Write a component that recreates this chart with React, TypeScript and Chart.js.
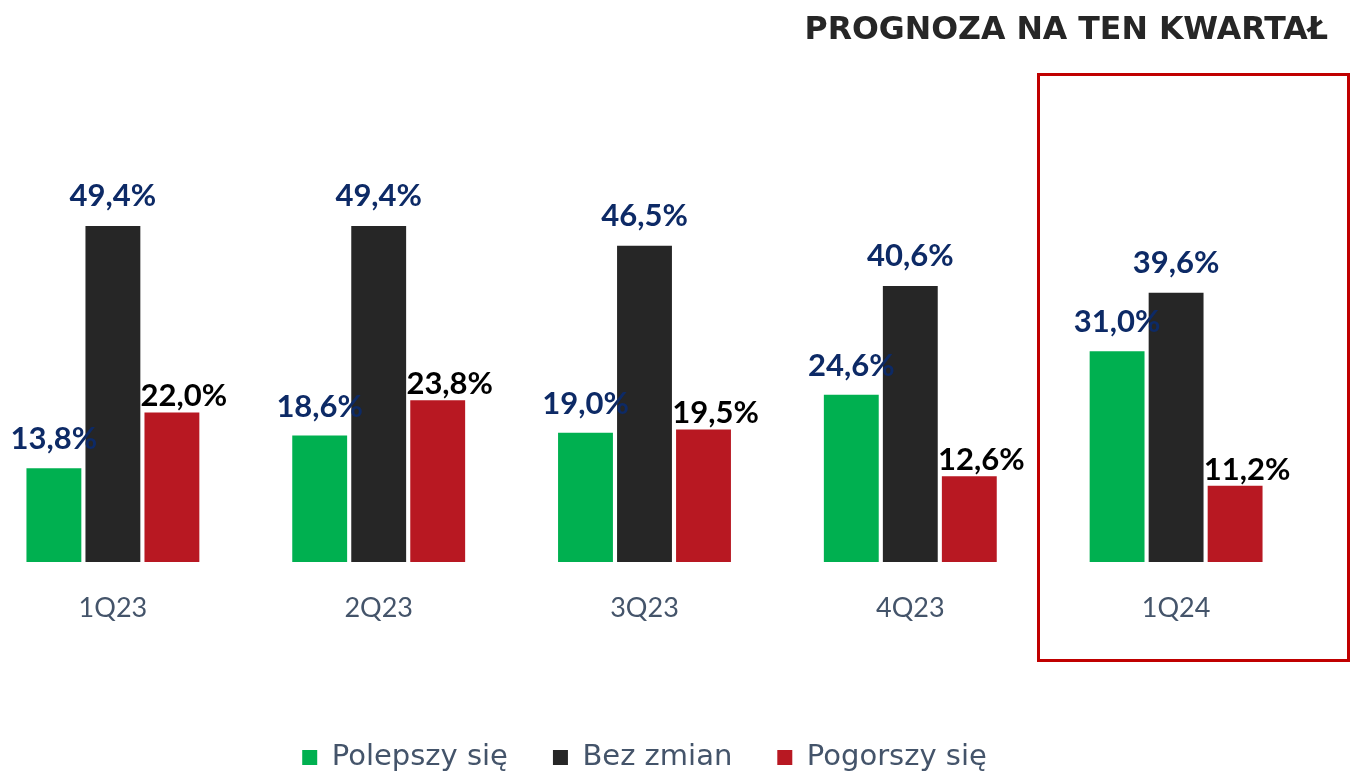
import React, { useEffect, useRef } from "react";
import { Chart, registerables } from "chart.js";

Chart.register(...registerables);

// ---- data ----
const categories = ["1Q23", "2Q23", "3Q23", "4Q23", "1Q24"];
const seriesNames = ["Polepszy się", "Bez zmian", "Pogorszy się"];
const improve = [13.8, 18.6, 19.0, 24.6, 31.0];
const noChange = [49.4, 49.4, 46.5, 40.6, 39.6];
const worsen = [22.0, 23.8, 19.5, 12.6, 11.2];
const titleText = "PROGNOZA NA TEN KWARTAŁ";

const fmt = (v: number) => v.toFixed(1).replace(".", ",") + "%";

const labelStyles = [
  { color: "#0D2A66", dx: 0, dy: 19 },
  { color: "#0D2A66", dx: 0, dy: 20 },
  { color: "#000000", dx: 12, dy: 6 },
];

const valueLabels = {
  id: "valueLabels",
  afterDatasetsDraw(chart: any) {
    const ctx = chart.ctx;
    ctx.save();
    ctx.font = "bold 31px Lato";
    ctx.textAlign = "center";
    ctx.textBaseline = "alphabetic";
    chart.data.datasets.forEach((ds: any, i: number) => {
      const meta = chart.getDatasetMeta(i);
      const st = labelStyles[i];
      meta.data.forEach((bar: any, j: number) => {
        ctx.fillStyle = st.color;
        ctx.fillText(fmt(ds.data[j]), bar.x + st.dx, bar.y - st.dy);
      });
    });
    ctx.restore();
  },
};

export default function App() {
  const ref = useRef<HTMLCanvasElement | null>(null);

  useEffect(() => {
    if (!ref.current) return;
    const chart = new Chart(ref.current, {
      type: "bar",
      data: {
        labels: categories,
        datasets: [
          { label: seriesNames[0], data: improve, backgroundColor: "#00B050" },
          { label: seriesNames[1], data: noChange, backgroundColor: "#262626" },
          { label: seriesNames[2], data: worsen, backgroundColor: "#B81822" },
        ],
      },
      options: {
        responsive: false,
        animation: false,
        layout: { padding: { top: 154, left: 0, right: 0, bottom: 0 } },
        datasets: {
          bar: { categoryPercentage: 0.666, barPercentage: 0.93 },
        },
        scales: {
          x: {
            grid: { display: false, drawTicks: false },
            border: { display: false },
            ticks: {
              color: "#44546A",
              font: { family: "Lato", size: 27 },
              padding: 30,
            },
            afterFit(scale: any) {
              scale.height = 136;
            },
          },
          y: { display: false, min: 0, max: 60 },
        },
        plugins: {
          legend: {
            position: "bottom",
            labels: {
              color: "#44546A",
              font: { family: "DejaVu Sans", size: 29 },
              boxWidth: 15,
              boxHeight: 15,
              padding: 45,
            },
          },
          tooltip: { enabled: false },
        },
      },
      plugins: [valueLabels],
    } as any);
    return () => chart.destroy();
  }, []);

  return (
    <div
      style={{
        position: "absolute",
        left: 0,
        top: 0,
        width: 1350,
        height: 774,
        overflow: "hidden",
        background: "#ffffff",
      }}
    >
      <div style={{ position: "absolute", left: -20, top: 0, width: 1329, height: 782 }}>
        <canvas ref={ref} width={1329} height={782} />
      </div>
      <div
        style={{
          position: "absolute",
          right: 22,
          top: 10,
          fontFamily: "'DejaVu Sans'",
          fontWeight: "bold",
          fontSize: 31.6,
          lineHeight: "36px",
          color: "#262626",
          whiteSpace: "nowrap",
        }}
      >
        {titleText}
      </div>
      <div
        style={{
          position: "absolute",
          left: 1037,
          top: 73,
          width: 313,
          height: 589,
          border: "3px solid #C00000",
          boxSizing: "border-box",
        }}
      />
    </div>
  );
}
